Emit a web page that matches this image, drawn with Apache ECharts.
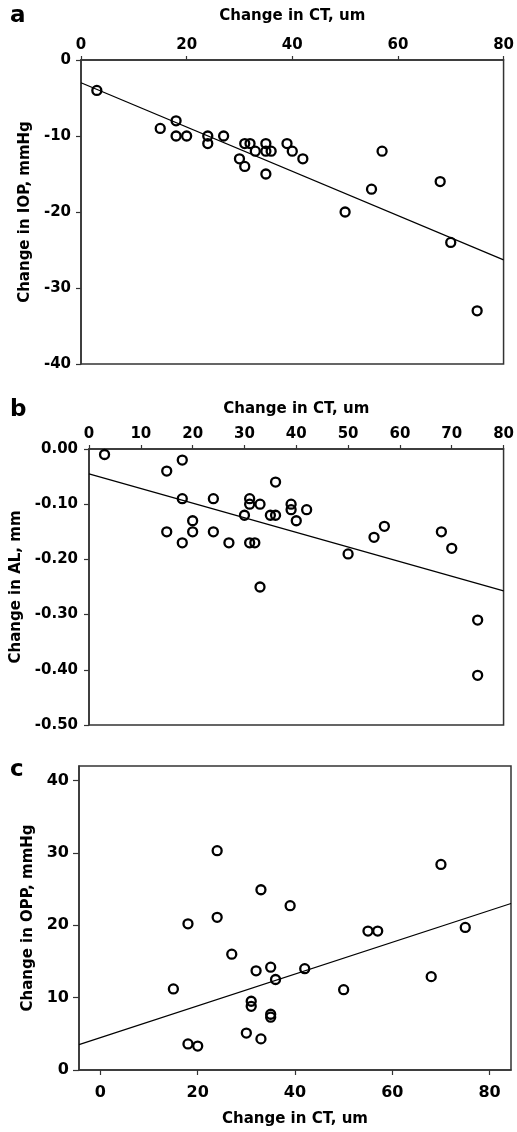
<!DOCTYPE html>
<html>
<head>
<meta charset="utf-8">
<script src="https://cdn.jsdelivr.net/npm/echarts@6/dist/echarts.min.js"></script>
<style>
  html, body { margin: 0; padding: 0; background: #fff; }
  #chart { width: 517px; height: 1132px; }
</style>
</head>
<body>
<div id="chart"></div>
<script>
// Panel a : change in IOP vs change in CT
const ctA  = [3, 15, 18, 18, 20, 24, 24, 27, 30, 31, 31, 32, 33, 35, 35, 35, 36, 39, 40, 42, 50, 55, 57, 68, 70, 75];
const iopA = [-4, -9, -8, -10, -10, -10, -11, -10, -13, -14, -11, -11, -12, -11, -12, -15, -12, -11, -12, -13, -20, -17, -12, -16, -24, -33];
const fitA_x = [0, 80];
const fitA_y = [-3.0, -26.3];

// Panel b : change in AL vs change in CT
const ctB = [3, 15, 18, 18, 15, 18, 20, 20, 24, 24, 27, 30, 31, 31, 33, 31, 32, 35, 36, 36, 39, 39, 40, 42, 50, 55, 57, 68, 70, 33, 75, 75];
const alB = [-0.01, -0.04, -0.02, -0.09, -0.15, -0.17, -0.13, -0.15, -0.09, -0.15, -0.17, -0.12, -0.09, -0.10, -0.10, -0.17, -0.17,
             -0.12, -0.12, -0.06, -0.10, -0.11, -0.13, -0.11, -0.19, -0.16, -0.14, -0.15, -0.18, -0.25, -0.31, -0.41];
const fitB_x = [0, 80];
const fitB_y = [-0.045, -0.257];

// Panel c : change in OPP vs change in CT
const ctC  = [24, 70, 33, 39, 18, 24, 55, 57, 75, 27, 35, 32, 42, 36, 68, 15, 50, 31, 31, 35, 35, 30, 33, 18, 20];
const oppC = [30.3, 28.4, 24.9, 22.7, 20.2, 21.1, 19.2, 19.2, 19.7, 16.0, 14.2, 13.7, 14.0, 12.5, 12.9, 11.2, 11.1, 9.5, 8.8, 7.7, 7.3, 5.1, 4.3, 3.6, 3.3];
const fitC_x = [-4.4, 84.4];
const fitC_y = [3.5, 23.0];

const ticksC_x = [0, 20, 40, 60, 80];
const ticksC_y = [0, 10, 20, 30, 40];

const font = 'DejaVu Sans';
const axisCol = '#333';
const textCol = '#000';

function pairs(xs, ys) {
    return xs.map((x, i) => [x, ys[i]]);
}

function labelStyle(size, margin, extra) {
    return Object.assign({ margin: margin, color: textCol, fontFamily: font, fontWeight: 'bold', fontSize: size }, extra);
}

function baseAxis(extra) {
    return Object.assign({
        type: 'value',
        splitLine: { show: false },
        axisLine: { show: true, onZero: false, lineStyle: { color: axisCol, width: 1.5 } },
        axisTick: { show: true, inside: false, length: 5, lineStyle: { color: axisCol, width: 1.2 } },
        axisLabel: labelStyle(15, 10),
        nameLocation: 'middle',
        nameTextStyle: { color: textCol, fontFamily: font, fontWeight: 'bold', fontSize: 15 }
    }, extra);
}

function scatter(idx, data) {
    return {
        type: 'scatter', xAxisIndex: idx, yAxisIndex: idx,
        data: data, symbol: 'circle', symbolSize: 9, z: 3,
        itemStyle: { color: 'rgba(0,0,0,0)', borderColor: '#000', borderWidth: 2.3, opacity: 1 }
    };
}

function fitLine(idx, data) {
    return {
        type: 'line', xAxisIndex: idx, yAxisIndex: idx,
        data: data, symbol: 'none', silent: true, z: 2,
        lineStyle: { color: '#000', width: 1.2 }
    };
}

const gridStyle = { show: true, borderColor: axisCol, borderWidth: 1.5, backgroundColor: 'transparent', containLabel: false };

const chart = echarts.init(document.getElementById('chart'), null, { renderer: 'canvas' });

chart.setOption({
    animation: false,
    grid: [
        Object.assign({ left: 81, top: 60, width: 425, height: 304 }, gridStyle),
        Object.assign({ left: 89, top: 449, width: 419, height: 276 }, gridStyle),
        Object.assign({ left: 79, top: 766, width: 432, height: 304 }, gridStyle)
    ],
    xAxis: [
        baseAxis({ gridIndex: 0, position: 'top', min: 0, max: 80, interval: 20,
            axisTick: { show: true, length: 4, lineStyle: { color: axisCol, width: 1.2 } },
            axisLabel: labelStyle(15, 7),
            name: 'Change in CT, um', nameGap: 36 }),
        baseAxis({ gridIndex: 1, position: 'top', min: 0, max: 80, interval: 10,
            axisTick: { show: true, length: 4, lineStyle: { color: axisCol, width: 1.2 } },
            axisLabel: labelStyle(15, 7),
            name: 'Change in CT, um', nameGap: 32 }),
        baseAxis({ gridIndex: 2, position: 'bottom', min: fitC_x[0], max: fitC_x[1],
            axisTick: { show: true, length: 5, customValues: ticksC_x, lineStyle: { color: axisCol, width: 1.2 } },
            axisLabel: labelStyle(16, 15, { customValues: ticksC_x }),
            name: 'Change in CT, um', nameGap: 42 })
    ],
    yAxis: [
        baseAxis({ gridIndex: 0, position: 'left', min: -40, max: 0, interval: 10,
            axisLabel: labelStyle(15, 10),
            name: 'Change in IOP, mmHg', nameGap: 45 }),
        baseAxis({ gridIndex: 1, position: 'left', min: -0.5, max: 0, interval: 0.1,
            axisLabel: labelStyle(15, 11, { formatter: v => v.toFixed(2) }),
            name: 'Change in AL, mm', nameGap: 61 }),
        baseAxis({ gridIndex: 2, position: 'left', min: 0, max: 42,
            axisTick: { show: true, length: 6, customValues: ticksC_y, lineStyle: { color: axisCol, width: 1.2 } },
            axisLabel: labelStyle(16, 10, { customValues: ticksC_y }),
            name: 'Change in OPP, mmHg', nameGap: 42 })
    ],
    series: [
        fitLine(0, pairs(fitA_x, fitA_y)),
        scatter(0, pairs(ctA, iopA)),
        fitLine(1, pairs(fitB_x, fitB_y)),
        scatter(1, pairs(ctB, alB)),
        fitLine(2, pairs(fitC_x, fitC_y)),
        scatter(2, pairs(ctC, oppC))
    ],
    graphic: [
        { type: 'text', left: 10, top: 5, style: { text: 'a', font: 'bold 23px "DejaVu Sans"', fill: textCol } },
        { type: 'text', left: 10, top: 399, style: { text: 'b', font: 'bold 23px "DejaVu Sans"', fill: textCol } },
        { type: 'text', left: 10, top: 759, style: { text: 'c', font: 'bold 23px "DejaVu Sans"', fill: textCol } }
    ]
});
</script>
</body>
</html>
